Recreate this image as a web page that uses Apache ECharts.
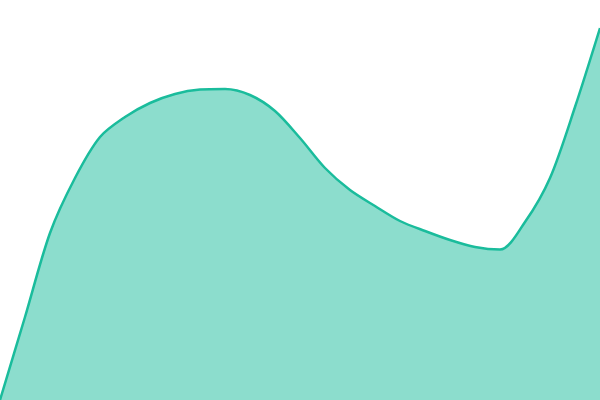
<!DOCTYPE html>
<html>
<head>
<meta charset="utf-8">
<script src="https://cdn.jsdelivr.net/npm/echarts@6/dist/echarts.min.js"></script>
<style>
  html, body { margin: 0; padding: 0; background: #fff; }
  #chart { width: 600px; height: 400px; }
</style>
</head>
<body>
<div id="chart"></div>
<script>
// sample positions along the curve and their values
var categories = [];
for (var i = 0; i <= 24; i++) { categories.push(String(i)); }
var values = [
    0, 20.75, 41.75, 55.5, 65.75, 70.75, 74.25, 76.5, 77.6, 77.75,
    76.25, 72.25, 65.5, 58, 52.5, 48.5, 44.75, 42.25, 40, 38.25,
    37.6, 44.5, 55.5, 73.25, 93
];

var chart = echarts.init(document.getElementById('chart'));
chart.setOption({
    animation: false,
    grid: { left: 0, right: 0, top: 0, bottom: 0 },
    xAxis: {
        type: 'category',
        data: categories,
        boundaryGap: false,
        show: false
    },
    yAxis: {
        type: 'value',
        min: 0,
        max: 100,
        show: false
    },
    series: [{
        type: 'line',
        data: values,
        smooth: 0.3,
        symbol: 'none',
        lineStyle: { color: '#1abc9c', width: 2.5 },
        areaStyle: { color: '#1abc9c', opacity: 0.5 }
    }]
});
</script>
</body>
</html>
